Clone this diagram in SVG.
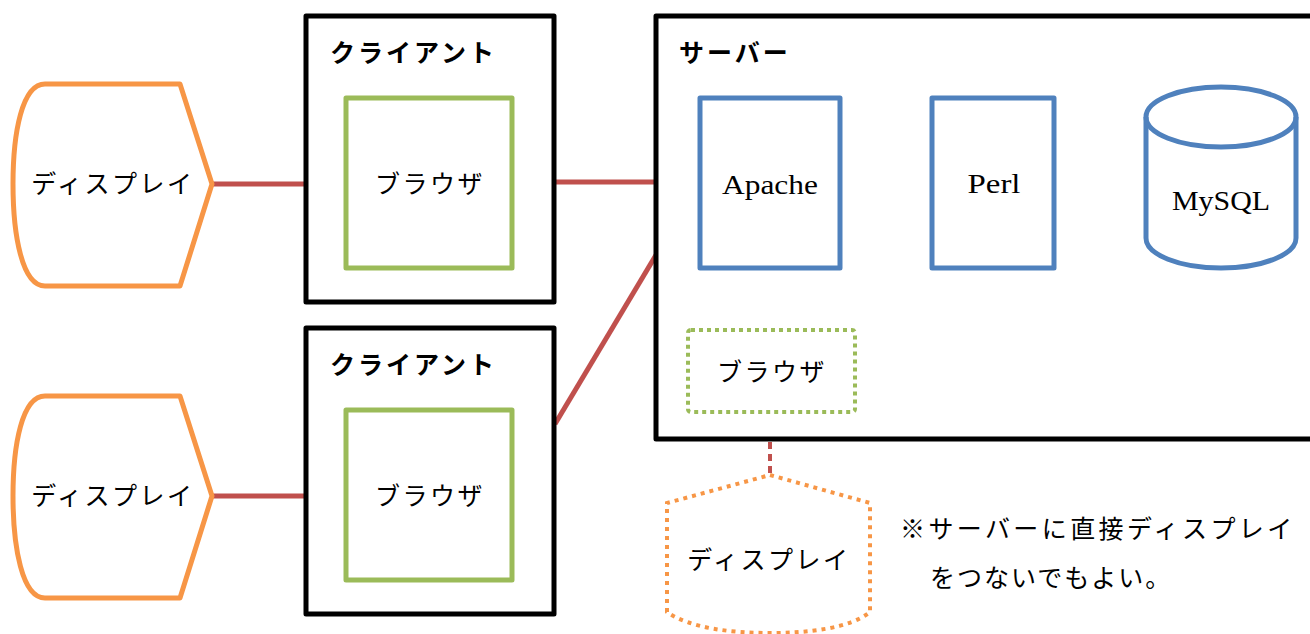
<svg xmlns="http://www.w3.org/2000/svg" width="1310" height="634" viewBox="0 0 1310 634">
<style>
text{font-family:"Liberation Serif","Noto Sans CJK JP",serif;fill:#000;}
.jp{font-size:25px;letter-spacing:2.5px;}
.lbl{font-size:25px;font-weight:bold;letter-spacing:3px;}
.en{font-size:27px;}
.note1{font-size:25px;letter-spacing:3.4px;}
.note2{font-size:25px;letter-spacing:2px;}
.blk{fill:#fff;stroke:#000;stroke-width:5;stroke-linejoin:round;}
.grn{fill:#fff;stroke:#9BBB59;stroke-width:5;stroke-linejoin:round;}
.grnd{fill:#fff;stroke:#9BBB59;stroke-width:4;stroke-dasharray:4 4;}
.blu{fill:#fff;stroke:#4F81BD;stroke-width:5;stroke-linejoin:round;}
.org{fill:#fff;stroke:#F79646;stroke-width:5;stroke-linejoin:round;}
.orgd{fill:#fff;stroke:#F79646;stroke-width:4;stroke-dasharray:4 5;}
.con{stroke:#C0504D;stroke-width:5;fill:none;}
.cond{stroke:#C0504D;stroke-width:4;fill:none;stroke-dasharray:7 5;}
</style>
<g id="connectors">
<line class="con" x1="212" y1="184" x2="306" y2="184"/>
<line class="con" x1="212" y1="496" x2="306" y2="496"/>
<line class="con" x1="554" y1="182" x2="656" y2="182"/>
<line class="con" x1="555" y1="424" x2="656" y2="255"/>
<line class="cond" x1="770" y1="442" x2="770" y2="476"/>
</g>
<g id="display1">
<path class="org" d="M45,84 L180,84 L212,184 L180,286 L45,286 C22,286 13,235 13,184 C13,133 22,84 45,84 Z"/>
<text class="jp" x="113" y="193" text-anchor="middle">ディスプレイ</text>
</g>
<g id="display2">
<path class="org" d="M45,396 L180,396 L212,496 L180,598 L45,598 C22,598 13,547 13,496 C13,445 22,396 45,396 Z"/>
<text class="jp" x="113" y="505" text-anchor="middle">ディスプレイ</text>
</g>
<g id="client1">
<rect class="blk" x="306" y="16" width="248" height="286"/>
<text class="lbl" x="330" y="62">クライアント</text>
</g>
<g id="browser1">
<rect class="grn" x="346" y="98" width="166" height="170"/>
<text class="jp" x="430" y="193" text-anchor="middle">ブラウザ</text>
</g>
<g id="client2">
<rect class="blk" x="306" y="328" width="248" height="286"/>
<text class="lbl" x="330" y="374">クライアント</text>
</g>
<g id="browser2">
<rect class="grn" x="346" y="410" width="166" height="170"/>
<text class="jp" x="430" y="505" text-anchor="middle">ブラウザ</text>
</g>
<g id="server">
<rect class="blk" x="656" y="16" width="670" height="423"/>
<text class="lbl" x="679" y="62">サーバー</text>
</g>
<g id="apache">
<rect class="blu" x="700" y="98" width="140" height="170"/>
<text class="en" x="770" y="194" text-anchor="middle" textLength="96" lengthAdjust="spacingAndGlyphs">Apache</text>
</g>
<g id="perl">
<rect class="blu" x="932" y="98" width="122" height="170"/>
<text class="en" x="994" y="193" text-anchor="middle" textLength="53" lengthAdjust="spacingAndGlyphs">Perl</text>
</g>
<g id="mysql">
<path class="blu" d="M1146,117 L1146,238 A75,30 0 0 0 1296,238 L1296,117 A75,30 0 0 0 1146,117 Z"/>
<path fill="none" stroke="#4F81BD" stroke-width="5" d="M1146,117 A75,30 0 0 0 1296,117"/>
<text class="en" x="1221" y="210" text-anchor="middle" textLength="98" lengthAdjust="spacingAndGlyphs">MySQL</text>
</g>
<g id="browser3">
<rect class="grnd" x="688" y="330" width="167" height="82" rx="3"/>
<text class="jp" x="772" y="381" text-anchor="middle">ブラウザ</text>
</g>
<g id="display3">
<path class="orgd" d="M770,475 L870,503 L870,612 C850,628 810,633 770,633 C730,633 690,628 667,612 L667,503 Z"/>
<text class="jp" x="769" y="569" text-anchor="middle">ディスプレイ</text>
</g>
<g id="note">
<text class="note1" x="900" y="538">※サーバーに直接ディスプレイ</text>
<text class="note2" x="930" y="587">をつないでもよい。</text>
</g>
</svg>
